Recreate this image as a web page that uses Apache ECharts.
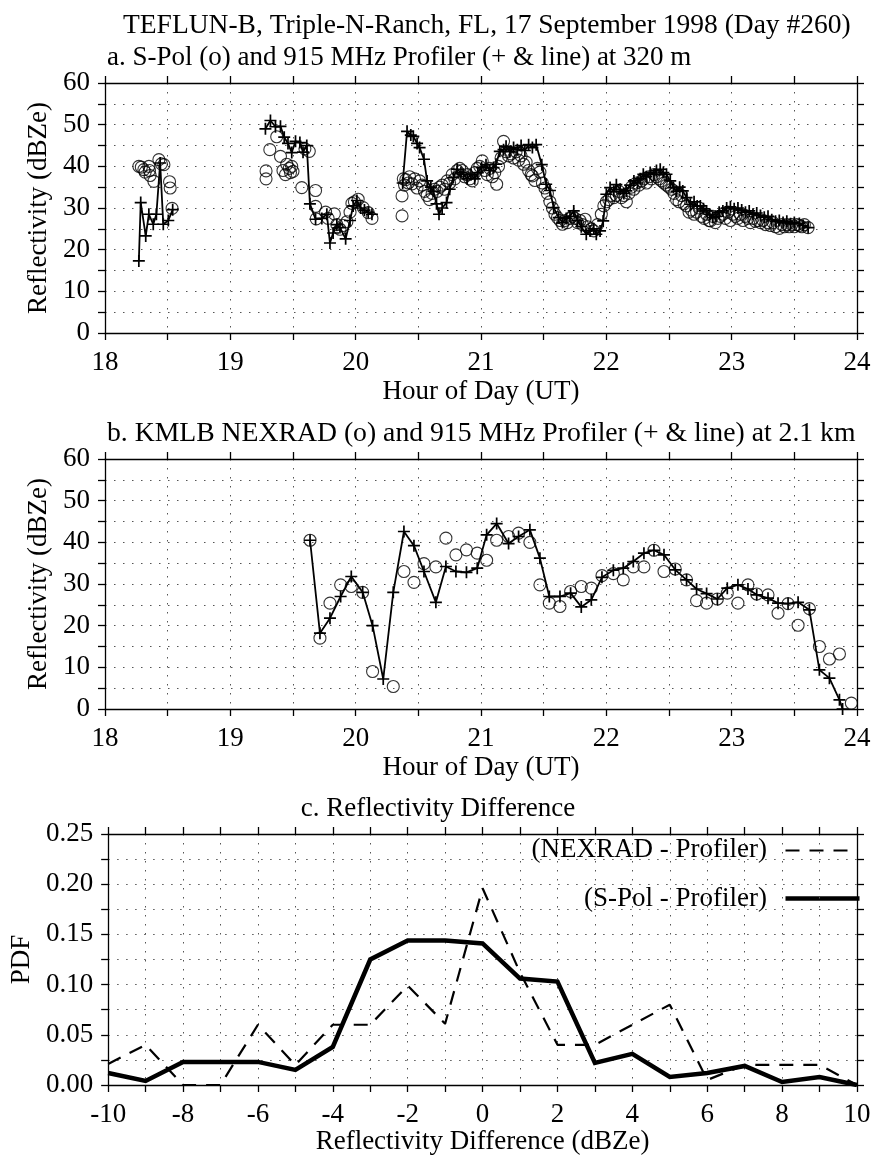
<!DOCTYPE html>
<html>
<head>
<meta charset="utf-8">
<script src="https://cdn.jsdelivr.net/npm/echarts@6/dist/echarts.min.js"></script>
<style>
  html, body { margin: 0; padding: 0; background: #fff; }
  #chart { width: 876px; height: 1158px; }
</style>
</head>
<body>
<div id="chart"></div>
<script>
// ---------------- Panel a: S-Pol vs 915 MHz profiler at 320 m ----------------
// Profiler (+ & line), three separate runs with data gaps between them
const profA1Hour = [18.270, 18.285, 18.325, 18.350, 18.385, 18.410, 18.440, 18.465, 18.505, 18.540];
const profA1Dbz  = [17.3, 31.3, 23.3, 28.5, 26.1, 28.5, 40.8, 26.1, 27.0, 29.6];

const profA2Hour = [19.28, 19.32, 19.36, 19.40, 19.43, 19.46, 19.49, 19.52, 19.555, 19.58, 19.61, 19.635,
                    19.68, 19.73, 19.77, 19.795, 19.82, 19.85, 19.875, 19.92, 19.955, 19.98, 20.01, 20.04,
                    20.07, 20.10, 20.13];
const profA2Dbz  = [49.0, 51.0, 49.5, 49.6, 47.0, 45.5, 43.3, 46.0, 45.7, 43.4, 45.0, 31.0,
                    27.3, 27.5, 28.5, 21.6, 24.0, 26.0, 25.3, 22.6, 27.0, 30.5, 31.8, 30.0,
                    29.5, 29.0, 28.5];

const profA3Hour = [20.375, 20.41, 20.44, 20.46, 20.49, 20.51, 20.545, 20.57, 20.60, 20.62, 20.645, 20.665,
                    20.69, 20.725, 20.75, 20.78, 20.81, 20.84, 20.86, 20.89, 20.92, 20.95, 20.975, 21.005,
                    21.04, 21.07, 21.10, 21.12, 21.15, 21.18, 21.20, 21.23, 21.26, 21.29, 21.32, 21.35,
                    21.38, 21.41, 21.44, 21.485, 21.52, 21.55, 21.58, 21.62, 21.65, 21.68, 21.71, 21.74,
                    21.77, 21.80, 21.84, 21.87, 21.90, 21.92, 21.95, 21.975, 22.00, 22.03, 22.06, 22.08,
                    22.11, 22.14, 22.16, 22.19, 22.22, 22.25, 22.27, 22.295, 22.32, 22.35, 22.38, 22.40,
                    22.43, 22.455, 22.48, 22.51, 22.535, 22.56, 22.585, 22.61, 22.64, 22.67, 22.70, 22.725,
                    22.75, 22.775, 22.80, 22.825, 22.85, 22.875, 22.90, 22.93, 22.96, 22.99, 23.02, 23.05,
                    23.08, 23.11, 23.14, 23.17, 23.20, 23.23, 23.26, 23.29, 23.32, 23.35, 23.38, 23.41,
                    23.44, 23.47, 23.50, 23.54, 23.57, 23.61];
const profA3Dbz  = [36.0, 48.4, 47.5, 47.2, 45.5, 44.5, 41.7, 36.5, 35.0, 34.0, 31.0, 28.5,
                    30.0, 31.3, 34.5, 37.3, 39.3, 38.5, 38.1, 37.0, 38.0, 37.0, 38.5, 39.7,
                    40.4, 39.0, 39.7, 40.5, 43.6, 44.0, 44.8, 43.5, 44.5, 44.0, 45.0, 43.8,
                    45.2, 44.5, 45.2, 40.4, 35.7, 34.2, 30.1, 27.7, 26.5, 27.5, 28.0, 29.3,
                    27.0, 25.5, 23.7, 24.5, 25.0, 23.7, 24.5, 26.9, 33.3, 34.9, 34.0, 35.6,
                    34.5, 33.5, 34.1, 35.5, 36.5, 36.0, 37.0, 38.1, 37.5, 38.5, 38.0, 39.0,
                    39.3, 38.5, 38.1, 36.5, 34.9, 34.0, 35.0, 34.1, 32.5, 30.9, 31.5, 30.5,
                    30.5, 29.8, 29.3, 28.5, 27.7, 28.0, 29.0, 29.3, 30.0, 30.3, 29.8, 30.0,
                    29.5, 29.0, 29.3, 28.5, 28.8, 28.2, 27.8, 28.0, 27.2, 26.8, 27.0, 26.5,
                    26.8, 26.2, 26.5, 26.3, 25.8, 25.3];

// S-Pol (o)
const spolHour = [18.27, 18.29, 18.31, 18.32, 18.35, 18.355, 18.36, 18.39, 18.43, 18.45, 18.47, 18.515, 18.52, 18.535,
                  19.285, 19.285, 19.315, 19.37, 19.40, 19.42, 19.44, 19.45, 19.47, 19.48, 19.49, 19.50, 19.57, 19.595,
                  19.63, 19.68, 19.68, 19.685, 19.76, 19.78, 19.83, 19.85, 19.875, 19.90, 19.93, 19.955, 19.97, 19.99,
                  20.02, 20.06, 20.10, 20.13,
                  20.37, 20.37, 20.38, 20.39, 20.40, 20.42, 20.43, 20.45, 20.47, 20.49, 20.51, 20.53, 20.55, 20.57,
                  20.59, 20.61, 20.63, 20.65, 20.67, 20.69, 20.71, 20.73, 20.75, 20.77, 20.79, 20.81, 20.83, 20.85,
                  20.87, 20.89, 20.91, 20.93, 20.95, 20.97, 20.99, 21.01, 21.03, 21.05, 21.07, 21.09, 21.11, 21.125,
                  21.14, 21.16, 21.18, 21.20, 21.22, 21.24, 21.26, 21.28, 21.30, 21.32, 21.34, 21.36, 21.38, 21.40,
                  21.41, 21.43, 21.45, 21.47, 21.49, 21.51, 21.53, 21.55, 21.57, 21.59, 21.61, 21.63, 21.65, 21.67,
                  21.69, 21.71, 21.73, 21.75, 21.77, 21.79, 21.81, 21.83, 21.85, 21.88, 21.90, 21.93, 21.96, 21.98,
                  22.00, 22.02, 22.04, 22.06, 22.08, 22.10, 22.12, 22.14, 22.16, 22.18, 22.20, 22.22, 22.24, 22.26,
                  22.28, 22.30, 22.32, 22.34, 22.36, 22.38, 22.40, 22.42, 22.44, 22.46, 22.48, 22.50, 22.52, 22.54,
                  22.56, 22.58, 22.60, 22.62, 22.64, 22.66, 22.68, 22.70, 22.72, 22.74, 22.76, 22.78, 22.80, 22.82,
                  22.83, 22.85, 22.87, 22.89, 22.91, 22.93, 22.95, 22.97, 22.99, 23.01, 23.03, 23.05, 23.07, 23.09,
                  23.11, 23.13, 23.15, 23.17, 23.19, 23.21, 23.23, 23.25, 23.27, 23.29, 23.31, 23.33, 23.35, 23.38,
                  23.40, 23.42, 23.44, 23.46, 23.48, 23.50, 23.52, 23.54, 23.56, 23.58, 23.61];
const spolDbz  = [40.0, 39.8, 39.2, 38.6, 40.0, 39.0, 37.8, 36.4, 41.6, 40.6, 40.4, 36.3, 34.8, 29.9,
                  38.9, 37.0, 44.0, 47.1, 42.4, 39.0, 38.0, 40.5, 39.5, 38.5, 40.0, 38.8, 34.9, 44.2,
                  43.6, 34.2, 30.4, 27.4, 29.0, 27.5, 28.6, 26.0, 24.9, 25.8, 26.7, 29.0, 31.1, 31.5,
                  32.1, 30.1, 28.9, 27.5,
                  32.9, 28.1, 37.0, 35.5, 36.8, 36.0, 37.5, 35.8, 37.0, 34.8, 36.5, 35.5, 34.0, 33.0,
                  32.0, 33.5, 34.5, 34.0, 35.0, 35.5, 34.5, 36.5, 36.0, 38.0, 37.0, 39.0, 39.5, 39.0,
                  37.5, 38.0, 37.0, 36.5, 38.5, 39.5, 40.0, 41.3, 39.0, 38.0, 39.5, 37.5, 38.5, 35.7,
                  40.0, 42.0, 46.0, 43.5, 42.5, 43.0, 42.0, 43.5, 41.5, 42.5, 40.5, 41.0, 39.0, 38.0,
                  37.7, 36.6, 39.5, 38.6, 36.0, 34.8, 33.5, 31.5, 30.0, 28.5, 27.7, 27.0, 26.1, 27.0,
                  26.5, 27.5, 28.0, 27.5, 26.5, 27.0, 26.0, 27.3, 25.5, 25.0, 24.5, 26.0, 28.5, 30.5,
                  31.5, 32.0, 33.0, 32.5, 33.0, 34.0, 32.5, 33.0, 31.5, 33.5, 35.0, 34.5, 36.0, 35.5,
                  36.5, 37.0, 36.0, 37.5, 37.0, 38.0, 37.5, 37.0, 36.5, 36.0, 35.5, 35.0, 34.5, 33.5,
                  32.0, 31.5, 33.0, 31.0, 30.5, 29.0, 29.5, 28.5, 29.0, 30.0, 28.0, 27.5, 28.5, 27.0,
                  26.9, 28.0, 26.5, 27.5, 28.0, 28.5, 27.5, 29.0, 27.0, 28.5, 28.0, 27.5, 28.5, 27.0,
                  28.0, 27.5, 26.5, 27.5, 26.8, 27.0, 26.5, 27.0, 26.0, 26.5, 25.8, 26.5, 25.5, 25.1,
                  26.0, 25.5, 26.0, 25.5, 26.0, 25.5, 26.0, 25.8, 25.5, 26.0, 25.3];

// ---------------- Panel b: KMLB NEXRAD vs profiler at 2.1 km ----------------
const profBHour = [19.636, 19.715, 19.795, 19.88, 19.965, 20.056, 20.135, 20.22, 20.30, 20.385, 20.465, 20.545,
                   20.64, 20.72, 20.80, 20.884, 20.97, 21.045, 21.125, 21.22, 21.30, 21.39, 21.47, 21.545,
                   21.63, 21.715, 21.80, 21.88, 21.965, 22.056, 22.135, 22.215, 22.30, 22.38, 22.46, 22.55,
                   22.64, 22.72, 22.80, 22.886, 22.965, 23.05, 23.13, 23.20, 23.29, 23.37, 23.45, 23.53,
                   23.62, 23.70, 23.78, 23.86, 23.885];
const profBDbz  = [40.5, 18.2, 21.8, 27.0, 31.8, 28.0, 20.0, 7.2, 28.0, 42.6, 39.2, 33.0,
                   25.6, 34.2, 33.0, 32.8, 33.8, 41.8, 44.5, 39.7, 41.4, 43.0, 36.2, 27.0,
                   27.0, 27.8, 24.5, 26.2, 31.6, 33.3, 33.8, 35.4, 37.4, 38.1, 37.0, 33.4,
                   31.0, 28.8, 27.7, 26.4, 29.0, 29.8, 28.8, 27.4, 26.6, 25.4, 25.3, 25.6,
                   23.8, 9.4, 7.4, 2.2, 0.0];

const nexHour = [19.636, 19.715, 19.795, 19.88, 19.965, 20.056, 20.135, 20.30, 20.385, 20.465, 20.545, 20.64,
                 20.72, 20.80, 20.884, 20.97, 21.045, 21.125, 21.22, 21.30, 21.39, 21.47, 21.545, 21.63,
                 21.715, 21.80, 21.88, 21.965, 22.056, 22.135, 22.215, 22.30, 22.38, 22.46, 22.55, 22.64,
                 22.72, 22.80, 22.886, 22.965, 23.05, 23.13, 23.20, 23.29, 23.37, 23.45, 23.53, 23.62,
                 23.70, 23.78, 23.86, 23.955];
const nexDbz  = [40.5, 17.0, 25.4, 29.8, 29.4, 28.0, 9.0, 5.4, 33.0, 30.4, 34.9, 34.1,
                 41.0, 37.0, 38.2, 37.4, 35.7, 40.5, 41.4, 42.2, 40.0, 29.8, 25.4, 24.6,
                 28.2, 29.4, 29.0, 32.0, 32.5, 31.0, 34.1, 34.1, 38.1, 33.0, 33.6, 31.0,
                 26.0, 25.4, 26.4, 27.8, 25.4, 29.8, 27.6, 27.4, 23.0, 25.3, 20.1, 24.1,
                 15.0, 12.0, 13.2, 1.4];

// ---------------- Panel c: PDF of reflectivity differences ----------------
const diffBins   = [-10, -9, -8, -7, -6, -5, -4, -3, -2, -1, 0, 1, 2, 3, 4, 5, 6, 7, 8, 9, 10];
const nexradPdf  = [0.021, 0.040, 0.000, 0.000, 0.060, 0.020, 0.060, 0.060, 0.099, 0.061, 0.196,
                    0.112, 0.040, 0.040, 0.060, 0.080, 0.005, 0.020, 0.020, 0.020, 0.000];
const spolPdf    = [0.012, 0.004, 0.023, 0.023, 0.023, 0.015, 0.038, 0.125, 0.144, 0.144, 0.141,
                    0.106, 0.103, 0.022, 0.031, 0.008, 0.012, 0.019, 0.003, 0.008, 0.000];

// Text
const mainTitle   = 'TEFLUN-B, Triple-N-Ranch, FL, 17 September 1998 (Day #260)';
const titleA      = 'a. S-Pol (o) and 915 MHz Profiler (+ & line) at 320 m';
const titleB      = 'b. KMLB NEXRAD (o) and 915 MHz Profiler (+ & line) at 2.1 km';
const titleC      = 'c. Reflectivity Difference';
const hourName    = 'Hour of Day (UT)';
const reflName    = 'Reflectivity (dBZe)';
const diffName    = 'Reflectivity Difference (dBZe)';
const pdfName     = 'PDF';
const legendNames = ['(NEXRAD - Profiler)', '(S-Pol - Profiler)'];

// ---------------- helpers ----------------
const FONT = '"Liberation Serif", "Times New Roman", serif';
const FS = 27;
const zip = (xs, ys) => xs.map((x, i) => [x, ys[i]]);
const plusSymbol = 'path://M6,0H8V6H14V8H8V14H6V8H0V6H6Z';
const dotted = { type: [1.5, 7.5], color: '#555', width: 1 };
const axisLineStyle = { color: '#000', width: 1.3 };
const txt = { fontFamily: FONT, fontSize: FS, color: '#000', lineHeight: FS };

function xAxisDef(grid, pos, opts) {
  const bottom = pos === 'bottom';
  return {
    type: 'value', gridIndex: grid, position: pos,
    min: opts.min, max: opts.max, interval: opts.interval,
    axisLine: { show: true, onZero: false, lineStyle: axisLineStyle },
    axisTick: { show: true, inside: false, length: 7, lineStyle: axisLineStyle },
    axisLabel: bottom ? Object.assign({ show: true, margin: 16, showMinLabel: true, showMaxLabel: true,
                                        formatter: opts.fmt }, txt) : { show: false },
    splitLine: { show: bottom, lineStyle: dotted },
    name: bottom ? opts.name : '', nameLocation: 'middle', nameGap: opts.nameGap,
    nameTextStyle: txt
  };
}
function yAxisDef(grid, pos, opts) {
  const left = pos === 'left';
  return {
    type: 'value', gridIndex: grid, position: pos,
    min: opts.min, max: opts.max, interval: opts.interval,
    axisLine: { show: true, onZero: false, lineStyle: axisLineStyle },
    axisTick: { show: true, inside: false, length: 7, lineStyle: axisLineStyle },
    axisLabel: left ? Object.assign({ show: true, margin: 15, showMinLabel: true, showMaxLabel: true,
                                      formatter: opts.fmt }, txt) : { show: false },
    splitLine: { show: left, lineStyle: dotted },
    name: left ? opts.name : '', nameLocation: 'middle', nameRotate: 90, nameGap: opts.nameGap,
    nameTextStyle: txt
  };
}

const hourFmt = v => (Math.abs(v - Math.round(v)) < 1e-6 ? String(Math.round(v)) : '');
const dbzFmt  = v => (Math.round(v) % 10 === 0 ? String(Math.round(v)) : '');
const diffFmt = v => (Math.round(v) % 2 === 0 ? String(Math.round(v)) : '');
const pdfFmt  = v => (Math.round(v * 1000) % 50 === 0 ? v.toFixed(2) : '');

const hourOpts = { min: 18, max: 24, interval: 0.5, fmt: hourFmt, name: hourName, nameGap: 45 };
const dbzOpts  = { min: 0, max: 60, interval: 5, fmt: dbzFmt, name: reflName, nameGap: 47 };

function profilerLine(xIdx, yIdx, data) {
  return {
    type: 'line', xAxisIndex: xIdx, yAxisIndex: yIdx, data: data,
    symbol: plusSymbol, symbolSize: 12, showSymbol: true,
    lineStyle: { color: '#000', width: 1.8 },
    itemStyle: { color: '#000' },
    z: 3, animation: false, silent: true
  };
}
function radarCircles(xIdx, yIdx, data) {
  return {
    type: 'scatter', xAxisIndex: xIdx, yAxisIndex: yIdx, data: data,
    symbol: 'circle', symbolSize: 12,
    itemStyle: { color: 'rgba(0,0,0,0)', borderColor: '#000', borderWidth: 1.1 },
    z: 4, animation: false, silent: true
  };
}

const titleStyle = { fontFamily: FONT, fontSize: FS, fontWeight: 'normal', color: '#000', lineHeight: FS };

const option = {
  backgroundColor: '#fff',
  animation: false,
  title: [
    { text: mainTitle, left: 123, top: 12, padding: 0, textStyle: Object.assign({}, titleStyle, { fontSize: 27.5 }) },
    { text: titleA, left: 107, top: 44, padding: 0, textStyle: titleStyle },
    { text: titleB, left: 107, top: 420, padding: 0, textStyle: Object.assign({}, titleStyle, { fontSize: 27.7 }) },
    { text: titleC, left: 'center', top: 795, padding: 0, textStyle: titleStyle }
  ],
  grid: [
    { left: 105, top: 83, width: 752, height: 250, show: false },
    { left: 105, top: 459, width: 752, height: 250, show: false },
    { left: 105, top: 834, width: 752, height: 251, show: false }
  ],
  xAxis: [
    xAxisDef(0, 'bottom', hourOpts), xAxisDef(0, 'top', hourOpts),
    xAxisDef(1, 'bottom', hourOpts), xAxisDef(1, 'top', hourOpts),
    xAxisDef(2, 'bottom', { min: -10, max: 10, interval: 1, fmt: diffFmt, name: diffName, nameGap: 38 }),
    xAxisDef(2, 'top', { min: -10, max: 10, interval: 1 })
  ],
  yAxis: [
    yAxisDef(0, 'left', dbzOpts), yAxisDef(0, 'right', dbzOpts),
    yAxisDef(1, 'left', dbzOpts), yAxisDef(1, 'right', dbzOpts),
    yAxisDef(2, 'left', { min: 0, max: 0.25, interval: 0.025, fmt: pdfFmt, name: pdfName, nameGap: 69 }),
    yAxisDef(2, 'right', { min: 0, max: 0.25, interval: 0.025 })
  ],
  series: [
    profilerLine(0, 0, zip(profA1Hour, profA1Dbz)),
    profilerLine(0, 0, zip(profA2Hour, profA2Dbz)),
    profilerLine(0, 0, zip(profA3Hour, profA3Dbz)),
    radarCircles(0, 0, zip(spolHour, spolDbz)),
    profilerLine(2, 2, zip(profBHour, profBDbz)),
    radarCircles(2, 2, zip(nexHour, nexDbz)),
    {
      name: legendNames[0], type: 'line', xAxisIndex: 4, yAxisIndex: 4,
      data: zip(diffBins, nexradPdf), symbol: 'none',
      lineStyle: { color: '#000', width: 2.2, type: [14, 10] }, z: 3
    },
    {
      name: legendNames[1], type: 'line', xAxisIndex: 4, yAxisIndex: 4,
      data: zip(diffBins, spolPdf), symbol: 'none',
      lineStyle: { color: '#000', width: 4.5, join: 'miter' }, z: 4
    }
  ],
  // legend key for panel c: label text followed by a line sample
  graphic: [
    { type: 'text', right: 109, top: 836, style: { text: legendNames[0], fill: '#000',
        font: FS + 'px ' + FONT, textAlign: 'right' } },
    { type: 'line', left: 783, top: 848, shape: { x1: 0, y1: 0, x2: 72, y2: 0 },
      style: { stroke: '#000', lineWidth: 2.2, lineDash: [14, 10] } },
    { type: 'text', right: 109, top: 885, style: { text: legendNames[1], fill: '#000',
        font: FS + 'px ' + FONT, textAlign: 'right' } },
    { type: 'line', left: 783, top: 896, shape: { x1: 0, y1: 0, x2: 74, y2: 0 },
      style: { stroke: '#000', lineWidth: 4.5 } }
  ]
};

const chart = echarts.init(document.getElementById('chart'), null, { renderer: 'canvas' });
chart.setOption(option);
</script>
</body>
</html>
